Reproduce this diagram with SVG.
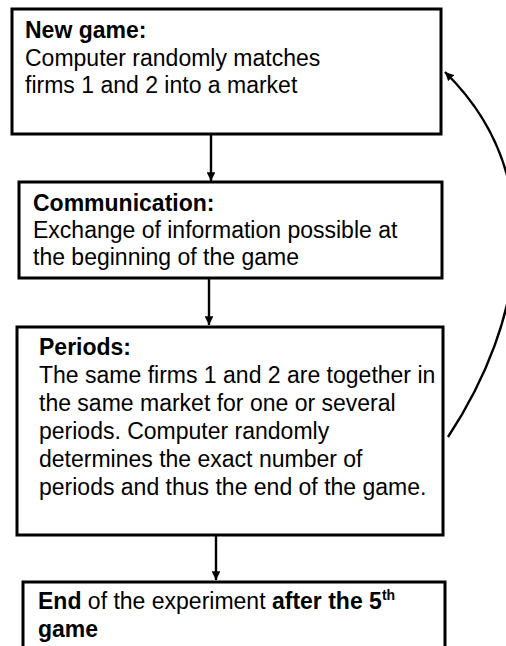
<svg xmlns="http://www.w3.org/2000/svg" width="506" height="646" viewBox="0 0 506 646">
<defs>
<style>
.box{fill:#fff;stroke:#000;stroke-width:3}
.t{font-family:"Liberation Sans",Arial,sans-serif;font-size:23px;fill:#000}
.b{font-weight:bold}
.conn{fill:none;stroke:#000;stroke-width:2.4}
</style>
<marker id="ah" viewBox="0 0 10 10" refX="10" refY="5" markerWidth="3.6" markerHeight="3.6" orient="auto" markerUnits="strokeWidth">
<path d="M0,0 L10,5 L0,10 z" fill="#000"/>
</marker>
</defs>
<rect width="506" height="646" fill="#fff"/>
<g id="connectors">
<line class="conn" x1="211" y1="135" x2="211" y2="181" marker-end="url(#ah)"/>
<line class="conn" x1="209" y1="279" x2="209" y2="325" marker-end="url(#ah)"/>
<line class="conn" x1="216" y1="536" x2="216" y2="580" marker-end="url(#ah)"/>
<path class="conn" d="M448,437 C525,320 550,175 445,72" marker-end="url(#ah)"/>
</g>
<g id="node-newgame">
<rect class="box" x="12" y="9" width="429" height="125"/>
<text class="t b" x="25" y="38">New game:</text>
<text class="t" x="25" y="66">Computer randomly matches</text>
<text class="t" x="25" y="93">firms 1 and 2 into a market</text>
</g>
<g id="node-communication">
<rect class="box" x="19" y="182" width="423" height="96"/>
<text class="t b" x="33" y="211">Communication:</text>
<text class="t" x="33" y="238">Exchange of information possible at</text>
<text class="t" x="33" y="265">the beginning of the game</text>
</g>
<g id="node-periods">
<rect class="box" x="17" y="327" width="426" height="208"/>
<text class="t b" x="39" y="355">Periods:</text>
<text class="t" x="39" y="383">The same firms 1 and 2 are together in</text>
<text class="t" x="39" y="411">the same market for one or several</text>
<text class="t" x="39" y="439">periods. Computer randomly</text>
<text class="t" x="39" y="467">determines the exact number of</text>
<text class="t" x="39" y="495">periods and thus the end of the game.</text>
</g>
<g id="node-end">
<rect class="box" x="23" y="582" width="422" height="90"/>
<text class="t" x="38" y="609"><tspan class="b">End</tspan> of the experiment <tspan class="b">after the 5</tspan><tspan class="b" font-size="14" dy="-9">th</tspan></text>
<text class="t b" x="38" y="637">game</text>
</g>
</svg>
